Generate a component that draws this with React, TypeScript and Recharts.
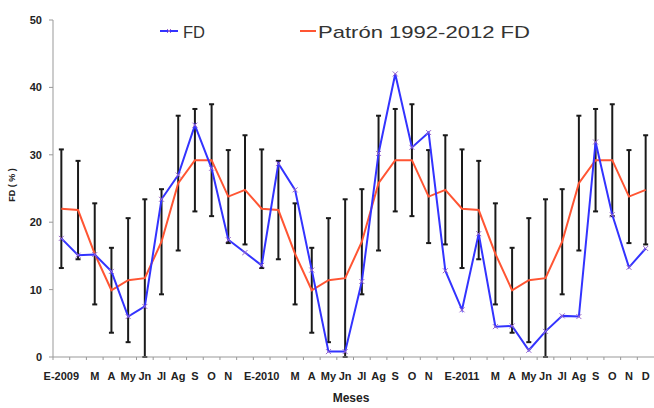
import React from 'react';
import { LineChart, Line, XAxis, YAxis, ErrorBar, Customized } from 'recharts';

const months = ['E-2009','F','M','A','My','Jn','Jl','Ag','S','O','N','D','E-2010','F','M','A','My','Jn','Jl','Ag','S','O','N','D','E-2011','F','M','A','My','Jn','Jl','Ag','S','O','N','D'];
// tick labels as visible in the reference (labels hidden where they collide with the year labels)
const tickLabels = ['E-2009','','M','A','My','Jn','Jl','Ag','S','O','N','','E-2010','','M','A','My','Jn','Jl','Ag','S','O','N','','E-2011','','M','A','My','Jn','Jl','Ag','S','O','N','D'];
const fd = [17.6,15.1,15.2,12.7,6.0,7.5,23.4,27.0,34.4,28.0,17.4,15.5, 13.6,28.7,24.8,12.9,0.8,0.8,11.2,30.2,42.0,31.1,33.3,12.8, 7.0,18.3,4.5,4.6,1.0,3.8,6.1,6.0,31.9,21.1,13.3,16.1];
const patron = [22.0,21.8,15.3,9.9,11.4,11.7,17.1,25.8,29.2,29.2,23.8,24.8, 22.0,21.8,15.3,9.9,11.4,11.7,17.1,25.8,29.2,29.2,23.8,24.8, 22.0,21.8,15.3,9.9,11.4,11.7,17.1,25.8,29.2,29.2,23.8,24.8];
const desv = [8.8,7.3,7.5,6.3,9.2,11.7,7.8,10.0,7.6,8.3,6.9,8.1, 8.8,7.3,7.5,6.3,9.2,11.7,7.8,10.0,7.6,8.3,6.9,8.1, 8.8,7.3,7.5,6.3,9.2,11.7,7.8,10.0,7.6,8.3,6.9,8.1];
const yTicks = [0, 10, 20, 30, 40, 50];

const data = months.map((m, i) => ({ idx: i, month: m, fd: fd[i], patron: patron[i], desv: desv[i] }));

const BW = 600 / 36;

const XTick = (props: any) => {
  const { x, y, payload } = props;
  const label = tickLabels[payload.value];
  return (
    <g>
      <line x1={x - BW / 2} x2={x - BW / 2} y1={y} y2={y + 3} stroke="#999" strokeWidth={1} />
      {label ? (
        <text x={x} y={y + 23} textAnchor="middle" fontFamily="'Liberation Sans Narrow', 'Liberation Sans', Arial" fontWeight="bold" fontSize={11} fill="#222">
          {label}
        </text>
      ) : null}
    </g>
  );
};

const YTick = (props: any) => {
  const { y, payload } = props;
  return (
    <g>
      <line x1={49} x2={53} y1={y} y2={y} stroke="#999" strokeWidth={1} />
      <text x={42} y={y + 4} textAnchor="end" fontFamily="'Liberation Sans Narrow', 'Liberation Sans', Arial" fontWeight="bold" fontSize={11} fill="#222">
        {payload.value}
      </text>
    </g>
  );
};

const XDot = (props: any) => {
  const { cx, cy } = props;
  if (cx == null || cy == null) return null;
  const s = 2.5;
  return (
    <g>
      <line x1={cx - s} y1={cy - s} x2={cx + s} y2={cy + s} stroke="#9966cc" strokeWidth={1} />
      <line x1={cx - s} y1={cy + s} x2={cx + s} y2={cy - s} stroke="#9966cc" strokeWidth={1} />
    </g>
  );
};

const Extras = () => (
  <g>
    <line x1={160} x2={178} y1={31} y2={31} stroke="#3333ff" strokeWidth={2} />
    <line x1={167} y1={29} x2={171} y2={33} stroke="#9966cc" strokeWidth={1} />
    <line x1={167} y1={33} x2={171} y2={29} stroke="#9966cc" strokeWidth={1} />
    <text x={183} y={38} fontFamily="'Liberation Sans', Arial" fontSize={17} fill="#333" textLength={22} lengthAdjust="spacingAndGlyphs">FD</text>
    <line x1={300} x2={316} y1={31} y2={31} stroke="#ff5533" strokeWidth={2} />
    <text x={318} y={38} fontFamily="'Liberation Sans', Arial" fontSize={17} fill="#333" textLength={212} lengthAdjust="spacingAndGlyphs">Patrón 1992-2012 FD</text>
    <text x={15} y={185} transform="rotate(-90 15 185)" textAnchor="middle" fontFamily="'Liberation Sans', Arial" fontWeight="bold" fontSize={9} fill="#222">FD ( % )</text>
    <text x={351} y={402} textAnchor="middle" fontFamily="'Liberation Sans Narrow', 'Liberation Sans', Arial" fontWeight="bold" fontSize={12} fill="#222">Meses</text>
  </g>
);

export default function App() {
  return (
    <div style={{ position: 'absolute', left: 0, top: 0, width: 654, height: 408, background: '#fff' }}>
      <LineChart width={654} height={408} data={data} margin={{ top: 20, right: 0, bottom: 0, left: 0 }}>
        <XAxis dataKey="idx" type="category" scale="band" height={51} axisLine={{ stroke: '#999' }} tickLine={false} tickSize={0} tickMargin={0} interval={0} tick={<XTick />} />
        <YAxis type="number" domain={[0, 50]} ticks={yTicks} width={53} axisLine={{ stroke: '#999' }} tickLine={false} tick={<YTick />} />
        <Line dataKey="patron" stroke="none" dot={false} activeDot={false} isAnimationActive={false} legendType="none">
          <ErrorBar dataKey="desv" width={2.5} stroke="#1a1a1a" strokeWidth={2} direction="y" />
        </Line>
        <Line dataKey="patron" stroke="#ff5533" strokeWidth={2} dot={false} activeDot={false} isAnimationActive={false} />
        <Line dataKey="fd" stroke="#3333ff" strokeWidth={2} dot={<XDot />} activeDot={false} isAnimationActive={false} />
        <Customized component={<Extras />} />
      </LineChart>
    </div>
  );
}
